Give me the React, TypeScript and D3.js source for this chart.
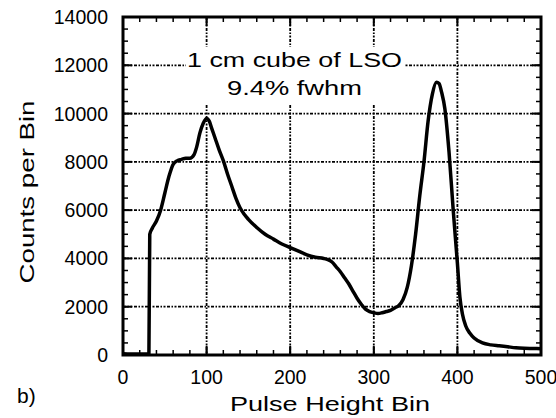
import React from "react";
import * as d3 from "d3";

// Pulse height spectrum, 1 cm cube of LSO
const bins = [0, 10, 20, 30, 31, 32, 35, 40, 45, 50, 55, 60, 65, 70, 75, 80, 85, 88, 92, 96, 100, 103, 106, 110, 115, 120, 125, 130, 135, 140, 145, 150, 160, 170, 180, 190, 200, 210, 220, 230, 240, 245, 250, 255, 260, 265, 270, 275, 280, 285, 290, 295, 300, 305, 310, 315, 320, 325, 330, 335, 340, 345, 350, 355, 360, 365, 370, 375, 378, 381, 385, 390, 395, 400, 403, 406, 410, 415, 420, 430, 440, 450, 460, 470, 480, 490, 500];
const counts = [50, 40, 40, 40, 60, 5000, 5250, 5550, 6000, 6700, 7400, 7900, 8050, 8100, 8150, 8150, 8300, 8600, 9200, 9600, 9800, 9700, 9400, 9000, 8500, 8050, 7500, 7000, 6500, 6100, 5830, 5620, 5280, 5000, 4800, 4600, 4450, 4300, 4150, 4050, 4000, 3950, 3850, 3650, 3450, 3200, 2950, 2650, 2350, 2100, 1900, 1800, 1750, 1720, 1750, 1800, 1850, 1950, 2050, 2300, 2800, 3700, 5000, 6600, 8000, 9700, 10800, 11300, 11250, 10900, 10200, 8400, 6000, 3800, 2400, 1700, 1200, 900, 700, 500, 420, 380, 340, 300, 280, 270, 260];

const xTicks = [0, 100, 200, 300, 400, 500];
const yTicks = [0, 2000, 4000, 6000, 8000, 10000, 12000, 14000];
const xGrid = [100, 200, 300, 400];
const yGrid = [2000, 4000, 6000, 8000, 10000, 12000];
const xMinor = d3.range(0, 501, 20);
const yMinor = d3.range(0, 14001, 500);

const annotation = ["1 cm cube of LSO", "9.4% fwhm"];

const W = 556;
const H = 418;
const left = 123;
const right = 541;
const top = 17;
const bottom = 355;

export default function App() {
  const x = d3.scaleLinear().domain([0, 500]).range([left, right]);
  const y = d3.scaleLinear().domain([0, 14000]).range([bottom, top]);
  const pts = bins.map((b, i) => [b, counts[i]] as [number, number]);
  const line = d3
    .line<[number, number]>()
    .x((d) => x(d[0]))
    .y((d) => y(d[1]))
    .curve(d3.curveMonotoneX);

  const font = "Liberation Sans, Arial, Helvetica, sans-serif";
  const dash = "3,1.5,1.5,1.5,2,1.5";

  return (
    <svg
      width={W}
      height={H}
      style={{ position: "absolute", left: 0, top: 0, background: "#fff" }}
      fontFamily={font}
    >
      <rect x={0} y={0} width={W} height={H} fill="#fff" />
      {/* grid */}
      <g stroke="#000" strokeWidth={1.8} strokeDasharray={dash}>
        {xGrid.map((v) => (
          <line key={"gx" + v} x1={x(v)} x2={x(v)} y1={top} y2={bottom} />
        ))}
        {yGrid.map((v) => (
          <line key={"gy" + v} x1={left} x2={right} y1={y(v)} y2={y(v)} />
        ))}
      </g>
      {/* annotation box */}
      <rect x={186} y={47} width={219} height={58} fill="#fff" />
      <text x={294.5} y={67} fontSize={20.5} textAnchor="middle" textLength={215} lengthAdjust="spacingAndGlyphs">
        {annotation[0]}
      </text>
      <text x={294.5} y={95} fontSize={20.5} textAnchor="middle" textLength={135} lengthAdjust="spacingAndGlyphs">
        {annotation[1]}
      </text>
      {/* minor ticks */}
      <g stroke="#000" strokeWidth={1.5}>
        {xMinor.map((v) => (
          <g key={"mx" + v}>
            <line x1={x(v)} x2={x(v)} y1={bottom} y2={bottom - 5} />
            <line x1={x(v)} x2={x(v)} y1={top} y2={top + 5} />
          </g>
        ))}
        {yMinor.map((v) => (
          <g key={"my" + v}>
            <line x1={left} x2={left + 5} y1={y(v)} y2={y(v)} />
            <line x1={right} x2={right - 5} y1={y(v)} y2={y(v)} />
          </g>
        ))}
      </g>
      {/* major ticks */}
      <g stroke="#000" strokeWidth={2}>
        {xTicks.map((v) => (
          <g key={"tx" + v}>
            <line x1={x(v)} x2={x(v)} y1={bottom} y2={bottom - 9} />
            <line x1={x(v)} x2={x(v)} y1={top} y2={top + 9} />
          </g>
        ))}
        {yTicks.map((v) => (
          <g key={"ty" + v}>
            <line x1={left} x2={left + 9} y1={y(v)} y2={y(v)} />
            <line x1={right} x2={right - 9} y1={y(v)} y2={y(v)} />
          </g>
        ))}
      </g>
      {/* spectrum */}
      <path d={line(pts) || ""} fill="none" stroke="#000" strokeWidth={3.5} strokeLinejoin="round" />
      {/* frame */}
      <rect x={left} y={top} width={right - left} height={bottom - top} fill="none" stroke="#000" strokeWidth={3} />
      {/* tick labels */}
      {yTicks.map((v) => (
        <text key={"ly" + v} x={108} y={y(v) + 7} fontSize={19.5} textAnchor="end">
          {v}
        </text>
      ))}
      {xTicks.map((v) => (
        <text key={"lx" + v} x={x(v)} y={384} fontSize={19.5} textAnchor="middle">
          {v}
        </text>
      ))}
      {/* axis titles */}
      <text x={330} y={411} fontSize={21} textAnchor="middle" textLength={200} lengthAdjust="spacingAndGlyphs">
        Pulse Height Bin
      </text>
      <text
        transform={`translate(34,${(top + bottom) / 2 + 6}) rotate(-90)`}
        fontSize={21}
        textAnchor="middle"
        textLength={183}
        lengthAdjust="spacingAndGlyphs"
      >
        Counts per Bin
      </text>
      <text x={17} y={403} fontSize={21}>
        b)
      </text>
    </svg>
  );
}
